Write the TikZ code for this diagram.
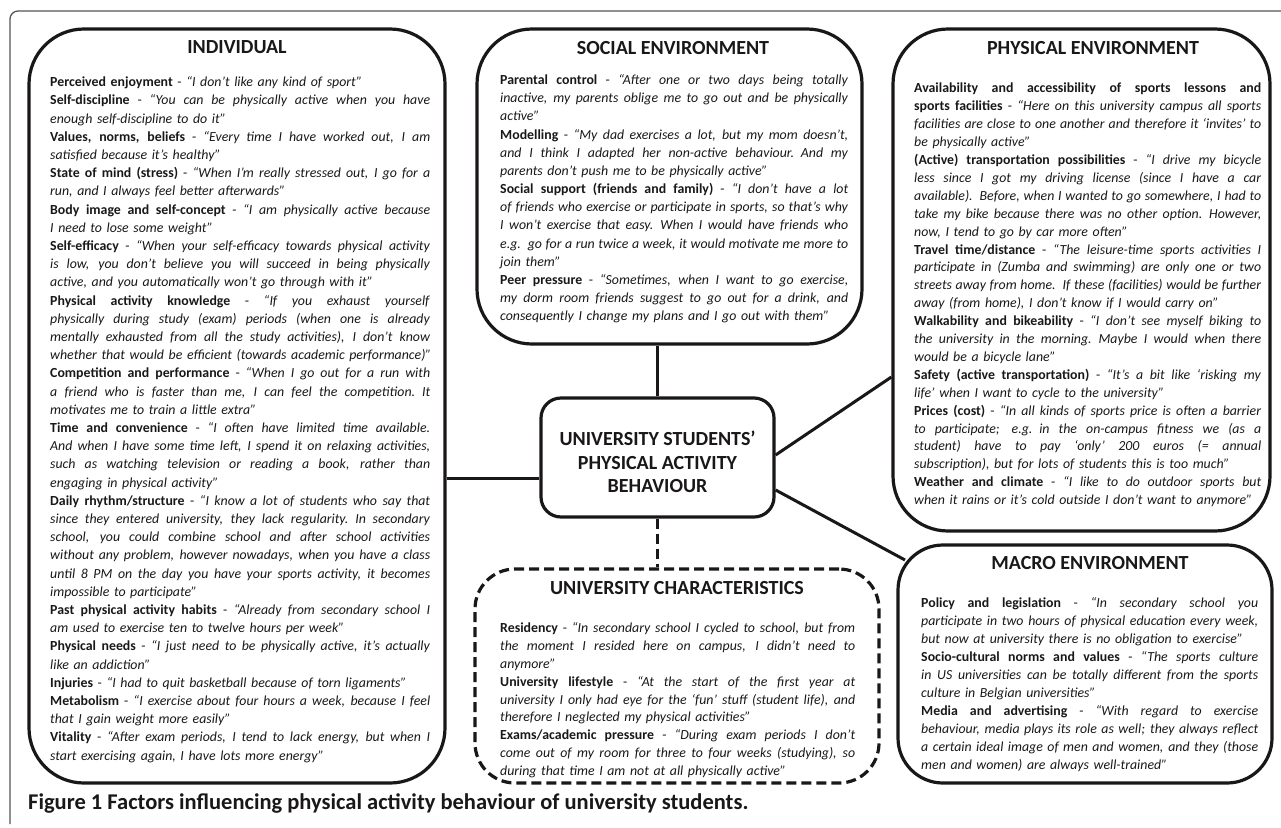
\documentclass[tikz,border=0pt]{standalone}
\usepackage{fontspec}
\setmainfont{Carlito}
\definecolor{ink}{HTML}{1A1718}
\definecolor{framec}{HTML}{555555}
\hfuzz=200pt
\hbadness=10000
\def\mylinew{380pt}
\newcommand\jline[1]{\par\hbox to\mylinew{\spaceskip=0.226em plus 1em minus 0.06em\vrule height 11pt depth 0pt width 0pt#1}}
\newcommand\lline[1]{\par\hbox{\vrule height 11pt depth 0pt width 0pt#1}}
\begin{document}
\begin{tikzpicture}[x=1pt,y=-1pt,
  box/.style={draw=ink, line width=3.2pt, rounded corners=55pt, inner sep=0},
  body/.style={anchor=north west, inner sep=0, text=ink, font=\fontsize{13.85}{17.9}\selectfont},
  ttl/.style={font=\bfseries\fontsize{20}{24}\selectfont, inner sep=0, text=ink},
  conn/.style={draw=ink, line width=3pt}]
\useasboundingbox (0,0) rectangle (1281,827);
% outer frame
\draw[framec, line width=1.3pt, rounded corners=8pt] (1281,11) -- (10,11) -- (10,824);
% boxes
\node[box, minimum width=416pt, minimum height=754pt] (ind) at (237,406) {};
\node[box, minimum width=385pt, minimum height=315pt] (soc) at (669.5,186.5) {};
\node[box, minimum width=377pt, minimum height=502pt] (phy) at (1081.5,280) {};
\node[box, rounded corners=20pt, minimum width=233pt, minimum height=119pt] (cen) at (657.5,457.5) {};
\node[box, rounded corners=40pt, dash pattern=on 10pt off 5pt, minimum width=404pt, minimum height=214pt] (uni) at (677,676) {};
\node[box, rounded corners=45pt, minimum width=374pt, minimum height=238pt] (mac) at (1085,664) {};
% connectors
\coordinate (lrow) at (0,478);
\coordinate (prow) at (0,455);
\coordinate (pend) at (0,377);
\coordinate (mrow) at (0,490);
\coordinate (mend) at (905,560);
\draw[conn] (cen.north) -- (cen.north |- soc.south);
\draw[conn] (cen.west |- lrow) -- (ind.east |- lrow);
\draw[conn] (cen.east |- prow) -- (phy.west |- pend);
\draw[conn] (cen.east |- mrow) -- (mend);
\draw[conn, dash pattern=on 10pt off 5pt] (cen.south) -- (cen.south |- uni.north);
% titles
\node[ttl] (indt) at (237,47) {INDIVIDUAL};
\node[ttl] (soct) at (673,48) {SOCIAL ENVIRONMENT};
\node[ttl] (phyt) at (1093,48) {PHYSICAL ENVIRONMENT};
\node[ttl] (unit) at (677,588) {UNIVERSITY CHARACTERISTICS};
\node[ttl] (mact) at (1090,563) {MACRO ENVIRONMENT};
\node[ttl, align=center, font=\bfseries\fontsize{20}{23.5}\selectfont] (cent) at (657.5,462) {UNIVERSITY STUDENTS’\\PHYSICAL ACTIVITY\\BEHAVIOUR};
% texts
\node[body, text width=380pt, font=\fontsize{13.85}{18.2}\selectfont] (indx) at (50,68.3) {\def\mylinew{380pt}%
\lline{\textbf{Perceived enjoyment} - \textit{“I don’t like any kind of sport”}}
\jline{\textbf{Self-discipline} - \textit{“You can be physically active when you have}}
\lline{\textit{enough self-discipline to do it”}}
\jline{\textbf{Values, norms, beliefs} - \textit{“Every time I have worked out, I am}}
\lline{\textit{satisfied because it’s healthy”}}
\jline{\textbf{State of mind (stress)} - \textit{“When I’m really stressed out, I go for a}}
\lline{\textit{run, and I always feel better afterwards”}}
\jline{\textbf{Body image and self-concept} - \textit{“I am physically active because}}
\lline{\textit{I need to lose some weight”}}
\jline{\textbf{Self-efficacy} - \textit{“When your self-efficacy towards physical activity}}
\jline{\textit{is low, you don’t believe you will succeed in being physically}}
\lline{\textit{active, and you automatically won’t go through with it”}}
\jline{\textbf{Physical activity knowledge} - \textit{“If you exhaust yourself}}
\jline{\textit{physically during study (exam) periods (when one is already}}
\jline{\textit{mentally exhausted from all the study activities), I don’t know}}
\lline{\textit{whether that would be efficient (towards academic performance)”}}
\jline{\textbf{Competition and performance} - \textit{“When I go out for a run with}}
\jline{\textit{a friend who is faster than me, I can feel the competition. It}}
\lline{\textit{motivates me to train a little extra”}}
\jline{\textbf{Time and convenience} - \textit{“I often have limited time available.}}
\jline{\textit{And when I have some time left, I spend it on relaxing activities,}}
\jline{\textit{such as watching television or reading a book, rather than}}
\lline{\textit{engaging in physical activity”}}
\jline{\textbf{Daily rhythm/structure} - \textit{“I know a lot of students who say that}}
\jline{\textit{since they entered university, they lack regularity. In secondary}}
\jline{\textit{school, you could combine school and after school activities}}
\jline{\textit{without any problem, however nowadays, when you have a class}}
\jline{\textit{until 8 PM on the day you have your sports activity, it becomes}}
\lline{\textit{impossible to participate”}}
\jline{\textbf{Past physical activity habits} - \textit{“Already from secondary school I}}
\lline{\textit{am used to exercise ten to twelve hours per week”}}
\jline{\textbf{Physical needs} - \textit{“I just need to be physically active, it’s actually}}
\lline{\textit{like an addiction”}}
\lline{\textbf{Injuries} - \textit{“I had to quit basketball because of torn ligaments”}}
\jline{\textbf{Metabolism} - \textit{“I exercise about four hours a week, because I feel}}
\lline{\textit{that I gain weight more easily”}}
\jline{\textbf{Vitality} - \textit{“After exam periods, I tend to lack energy, but when I}}
\lline{\textit{start exercising again, I have lots more energy”}}};
\node[body, text width=348pt, font=\fontsize{13.85}{18.15}\selectfont] (socx) at (500,66.3) {\def\mylinew{348pt}%
\jline{\textbf{Parental control} - \textit{“After one or two days being totally}}
\jline{\textit{inactive, my parents oblige me to go out and be physically}}
\lline{\textit{active”}}
\jline{\textbf{Modelling} - \textit{“My dad exercises a lot, but my mom doesn’t,}}
\jline{\textit{and I think I adapted her non-active behaviour. And my}}
\lline{\textit{parents don’t push me to be physically active”}}
\jline{\textbf{Social support (friends and family)} - \textit{“I don’t have a lot}}
\jline{\textit{of friends who exercise or participate in sports, so that’s why}}
\jline{\textit{I won’t exercise that easy. When I would have friends who}}
\jline{\textit{e.g. go for a run twice a week, it would motivate me more to}}
\lline{\textit{join them”}}
\jline{\textbf{Peer pressure} - \textit{“Sometimes, when I want to go exercise,}}
\jline{\textit{my dorm room friends suggest to go out for a drink, and}}
\lline{\textit{consequently I change my plans and I go out with them”}}};
\node[body, text width=347pt] (phyx) at (914,74.8) {\def\mylinew{347pt}%
\jline{\textbf{Availability and accessibility of sports lessons and}}
\jline{\textbf{sports facilities} - \textit{“Here on this university campus all sports}}
\jline{\textit{facilities are close to one another and therefore it ‘invites’ to}}
\lline{\textit{be physically active”}}
\jline{\textbf{(Active) transportation possibilities} - \textit{“I drive my bicycle}}
\jline{\textit{less since I got my driving license (since I have a car}}
\jline{\textit{available). Before, when I wanted to go somewhere, I had to}}
\jline{\textit{take my bike because there was no other option. However,}}
\lline{\textit{now, I tend to go by car more often”}}
\jline{\textbf{Travel time/distance} - \textit{“The leisure-time sports activities I}}
\jline{\textit{participate in (Zumba and swimming) are only one or two}}
\jline{\textit{streets away from home. If these (facilities) would be further}}
\lline{\textit{away (from home), I don’t know if I would carry on”}}
\jline{\textbf{Walkability and bikeability} - \textit{“I don’t see myself biking to}}
\jline{\textit{the university in the morning. Maybe I would when there}}
\lline{\textit{would be a bicycle lane”}}
\jline{\textbf{Safety (active transportation)} - \textit{“It’s a bit like ‘risking my}}
\lline{\textit{life’ when I want to cycle to the university”}}
\jline{\textbf{Prices (cost)} - \textit{“In all kinds of sports price is often a barrier}}
\jline{\textit{to participate; e.g. in the on-campus fitness we (as a}}
\jline{\textit{student) have to pay ‘only’ 200 euros (= annual}}
\lline{\textit{subscription), but for lots of students this is too much”}}
\jline{\textbf{Weather and climate} - \textit{“I like to do outdoor sports but}}
\lline{\textit{when it rains or it’s cold outside I don’t want to anymore”}}};
\node[body, text width=355pt] (unix) at (500,614.3) {\def\mylinew{355pt}%
\jline{\textbf{Residency} - \textit{“In secondary school I cycled to school, but from}}
\jline{\textit{the moment I resided here on campus, I didn’t need to}}
\lline{\textit{anymore”}}
\jline{\textbf{University lifestyle} - \textit{“At the start of the first year at}}
\jline{\textit{university I only had eye for the ‘fun’ stuff (student life), and}}
\lline{\textit{therefore I neglected my physical activities”}}
\jline{\textbf{Exams/academic pressure} - \textit{“During exam periods I don’t}}
\jline{\textit{come out of my room for three to four weeks (studying), so}}
\lline{\textit{during that time I am not at all physically active”}}};
\node[body, text width=337pt] (macx) at (921,589.8) {\def\mylinew{337pt}%
\jline{\textbf{Policy and legislation} - \textit{“In secondary school you}}
\jline{\textit{participate in two hours of physical education every week,}}
\lline{\textit{but now at university there is no obligation to exercise”}}
\jline{\textbf{Socio-cultural norms and values} - \textit{“The sports culture}}
\jline{\textit{in US universities can be totally different from the sports}}
\lline{\textit{culture in Belgian universities”}}
\jline{\textbf{Media and advertising} - \textit{“With regard to exercise}}
\jline{\textit{behaviour, media plays its role as well; they always reflect}}
\jline{\textit{a certain ideal image of men and women, and they (those}}
\lline{\textit{men and women) are always well-trained”}}};
% caption
\node[anchor=west, inner sep=0, text=ink, font=\bfseries\fontsize{22.5}{26}\selectfont] (cap) at (28,803) {Figure 1 Factors influencing physical activity behaviour of university students.};
\end{tikzpicture}
\end{document}
